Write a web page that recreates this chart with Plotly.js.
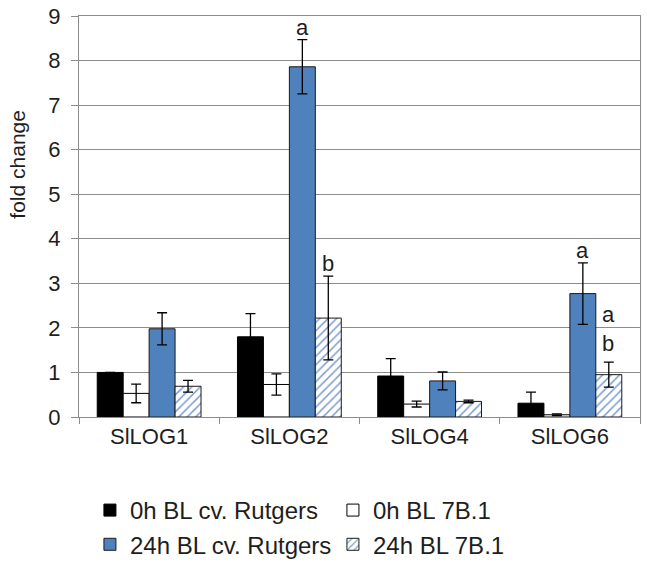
<!DOCTYPE html>
<html>
<head>
<meta charset="utf-8">
<script src="https://cdn.plot.ly/plotly-3.0.1.min.js"></script>
<style>html,body{margin:0;padding:0;background:#fff;}#chart{width:647px;height:562px;}</style>
</head>
<body>
<div id="chart"></div>
<script>
// ---- data ----
const categories = ['SlLOG1', 'SlLOG2', 'SlLOG4', 'SlLOG6'];
const seriesNames = ['0h BL cv. Rutgers', '0h BL 7B.1', '24h BL cv. Rutgers', '24h BL 7B.1'];
const rutgers0h = [1.00, 1.80, 0.92, 0.31];
const rutgers0hErr = [0.00, 0.52, 0.39, 0.25];
const line7B0h = [0.53, 0.73, 0.29, 0.05];
const line7B0hErr = [0.21, 0.24, 0.065, 0.02];
const rutgers24h = [1.98, 7.86, 0.81, 2.77];
const rutgers24hErr = [0.36, 0.61, 0.20, 0.69];
const line7B24h = [0.69, 2.22, 0.35, 0.95];
const line7B24hErr = [0.13, 0.94, 0.03, 0.28];
const rutgers24hLetters = ['', 'a', '', 'a'];
const line7B24hLetters = ['', 'b', '', 'a<br>b'];
const yTickVals = [0, 1, 2, 3, 4, 5, 6, 7, 8, 9];
const yTitle = 'fold change';

// ---- styling ----
const FONT = 'Liberation Sans, Arial, sans-serif';
const TXT = '#1e1e1e';
const GRID = '#8c8c8c';
const bargap = 0.26;
const FS = 22;

function err(arr) {
  return {type: 'data', array: arr, visible: true, color: '#000', thickness: 1.3, width: 5};
}

const traces = [
  {type: 'bar', name: seriesNames[0], x: categories, y: rutgers0h, error_y: err(rutgers0hErr),
   marker: {color: '#000000', line: {color: '#000', width: 1}}},
  {type: 'bar', name: seriesNames[1], x: categories, y: line7B0h, error_y: err(line7B0hErr),
   marker: {color: '#ffffff', line: {color: '#000', width: 1}}},
  {type: 'bar', name: seriesNames[2], x: categories, y: rutgers24h, error_y: err(rutgers24hErr),
   marker: {color: '#4f81bd', line: {color: '#1a1a1a', width: 1}}},
  {type: 'bar', name: seriesNames[3], x: categories, y: line7B24h, error_y: err(line7B24hErr),
   marker: {color: '#ffffff', line: {color: '#1a1a1a', width: 1},
            pattern: {shape: '/', fgcolor: '#7a9bd2', bgcolor: '#ffffff', size: 6, solidity: 0.25}}}
];

// letter annotations above error bars, positioned through the category axis
const nSeries = 4;
const groupW = 1 - bargap;
const barW = groupW / nSeries;
function offsetFor(i) { return -groupW / 2 + (i + 0.5) * barW; }
const annotations = [];
function addLetters(letters, vals, errs, si) {
  letters.forEach((t, ci) => {
    if (!t) return;
    annotations.push({
      x: ci + offsetFor(si), y: vals[ci] + errs[ci], xref: 'x', yref: 'y',
      text: t, showarrow: false, yanchor: 'bottom', yshift: t.indexOf('<br>') >= 0 ? 4 : -2,
      font: {family: FONT, size: FS, color: TXT}
    });
  });
}
addLetters(rutgers24hLetters, rutgers24h, rutgers24hErr, 2);
addLetters(line7B24hLetters, line7B24h, line7B24hErr, 3);
// y-axis title (placed above the axis centre, as in the reference)
annotations.push({
  text: yTitle, xref: 'paper', yref: 'paper', x: -0.11, y: 0.63, textangle: -90,
  xanchor: 'center', yanchor: 'middle', showarrow: false,
  font: {family: FONT, size: 21, color: TXT}
});

const layout = {
  width: 647, height: 562,
  margin: {l: 79, r: 7, t: 16, b: 145},
  paper_bgcolor: '#fff', plot_bgcolor: '#fff',
  barmode: 'group', bargap: bargap, bargroupgap: 0,
  font: {family: FONT, size: FS, color: TXT},
  showlegend: true,
  legend: {
    orientation: 'h', xref: 'container', yref: 'container',
    x: 0.139, xanchor: 'left', y: 0.1317, yanchor: 'top',
    entrywidth: 198, entrywidthmode: 'pixels', itemwidth: 30,
    font: {family: FONT, size: 24, color: TXT}, traceorder: 'normal'
  },
  xaxis: {
    type: 'category', showline: true, linecolor: GRID, linewidth: 1, mirror: true,
    ticks: 'outside', tickson: 'boundaries', ticklen: 6, tickcolor: GRID,
    showgrid: false, tickfont: {family: FONT, size: FS, color: TXT}
  },
  yaxis: {
    range: [0, 9], tickvals: yTickVals, showline: true, linecolor: GRID, linewidth: 1, mirror: true,
    ticks: 'outside', ticklen: 7, tickcolor: GRID, ticklabelstandoff: 6,
    showgrid: true, gridcolor: GRID, gridwidth: 1, zeroline: false,
    tickfont: {family: FONT, size: FS, color: TXT}
  },
  annotations: annotations
};

Plotly.newPlot('chart', traces, layout, {displayModeBar: false, staticPlot: true});
</script>
</body>
</html>
